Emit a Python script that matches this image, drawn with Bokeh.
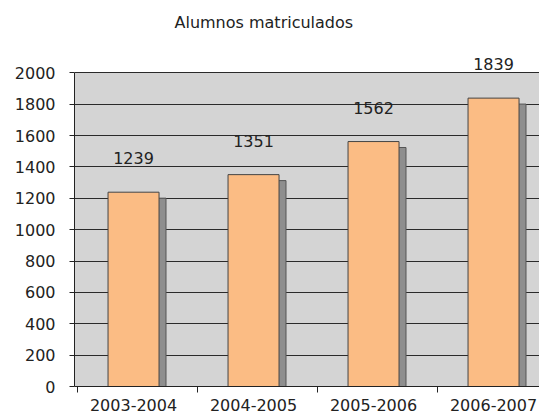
from bokeh.plotting import figure
from bokeh.models import ColumnDataSource, LabelSet, FixedTicker, Range1d, BoxAnnotation
from bokeh.core.properties import value
from bokeh.transform import dodge
from bokeh.embed import file_html
from bokeh.resources import INLINE

categories = ["2003-2004", "2004-2005", "2005-2006", "2006-2007"]
values = [1239, 1351, 1562, 1839]
y_ticks = [0, 200, 400, 600, 800, 1000, 1200, 1400, 1600, 1800, 2000]

FONT = "DejaVu Sans"
Y_MAX = 2000
xs = list(range(len(categories)))
src = ColumnDataSource(dict(
    x=xs, top=values, shadow_top=[v - 38 for v in values],
    label=[str(v) for v in values]))

p = figure(width=539, height=412, output_backend="svg", toolbar_location=None,
           x_range=Range1d(-0.492, 3.383), y_range=Range1d(0, 2200),
           frame_width=465, frame_height=345,
           min_border_left=74, min_border_right=0, min_border_bottom=26,
           min_border_top=41)
p.title.text = "Alumnos matriculados"
p.title.align = "left"
p.title.offset = 100
p.title.text_font = FONT
p.title.text_font_size = "16px"
p.title.text_font_style = "normal"
p.title.text_color = "#222222"
p.title.standoff = 20

p.background_fill_color = "white"
p.border_fill_color = "white"
p.outline_line_color = None

# plot-area background (only up to the top of the value axis)
p.add_layout(BoxAnnotation(bottom=0, top=Y_MAX, fill_color="#d4d4d4", fill_alpha=1,
                           line_color=None, level="image"))

# shadow
p.vbar(x=dodge("x", 0.058, range=p.x_range), top="shadow_top", bottom=-12, width=0.425,
       source=src, fill_color="#8e8e8e", line_color="#555555", line_width=1)
p.vbar(x="x", top="top", bottom=0, width=0.425, source=src,
       fill_color="#fbbc84", line_color="#444444", line_width=1)

labels = LabelSet(x="x", y="top", text="label", source=src, y_offset=34,
                  text_align="center", text_baseline="middle",
                  text_font=value(FONT), text_font_size=value("16px"), text_color="#222222")
p.add_layout(labels)

p.xgrid.visible = False
p.ygrid.ticker = FixedTicker(ticks=y_ticks)
p.ygrid.grid_line_color = "#2a2a2a"
p.ygrid.grid_line_width = 1

p.yaxis.ticker = FixedTicker(ticks=y_ticks)
p.yaxis.bounds = (0, Y_MAX)
p.yaxis.axis_line_color = "#222222"
p.yaxis.major_tick_line_color = "#222222"
p.yaxis.major_tick_out = 5
p.yaxis.major_tick_in = 0
p.yaxis.minor_tick_line_color = None
p.yaxis.major_label_text_font = FONT
p.yaxis.major_label_text_font_size = "16px"
p.yaxis.major_label_text_color = "#222222"
p.yaxis.major_label_standoff = 14

p.xaxis.ticker = FixedTicker(ticks=xs, minor_ticks=[i - 0.47 for i in xs])
p.xaxis.major_label_overrides = {i: c for i, c in zip(xs, categories)}
p.xaxis.axis_line_color = "#222222"
p.xaxis.major_tick_line_color = None
p.xaxis.minor_tick_line_color = "#222222"
p.xaxis.minor_tick_out = 6
p.xaxis.minor_tick_in = 0
p.xaxis.major_label_text_font = FONT
p.xaxis.major_label_text_font_size = "16px"
p.xaxis.major_label_text_color = "#222222"
p.xaxis.major_label_standoff = 6

open("out.html", "w").write(file_html(p, INLINE))
